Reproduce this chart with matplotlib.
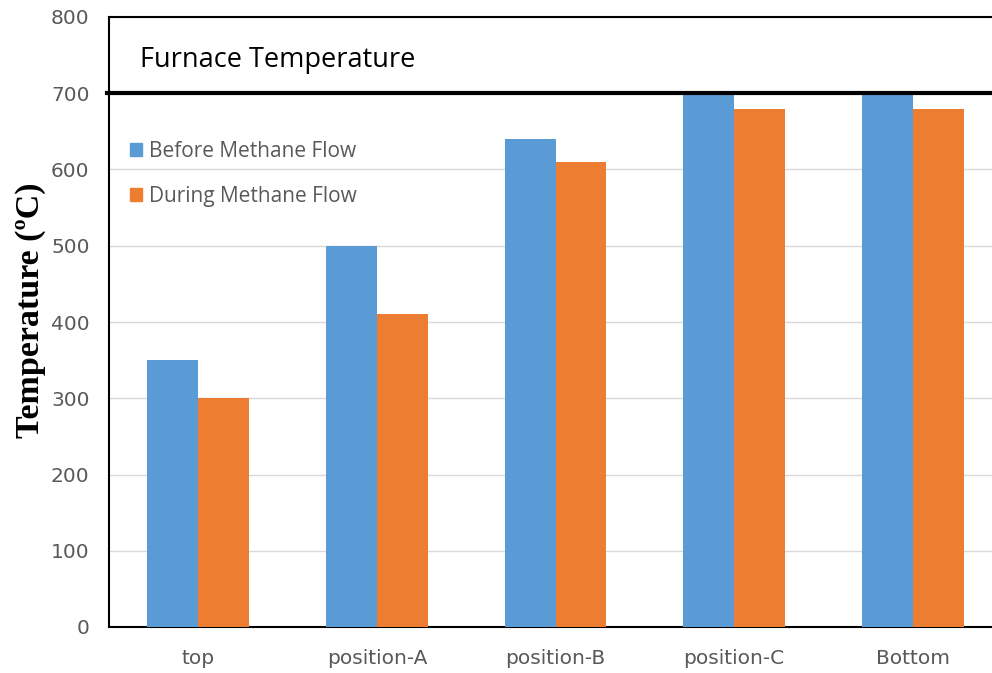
import matplotlib
matplotlib.use("Agg")
import matplotlib.pyplot as plt
import numpy as np
from matplotlib.patches import Patch

categories = ["top", "position-A", "position-B", "position-C", "Bottom"]
before = [350, 500, 640, 700, 700]
during = [300, 410, 610, 680, 680]
series_names = ["Before Methane Flow", "During Methane Flow"]
yticks = [0, 100, 200, 300, 400, 500, 600, 700, 800]
furnace_temp = 700

blue = "#5B9BD5"
orange = "#ED7D31"
gray = "#595959"

fig = plt.figure(figsize=(9.92, 6.73), dpi=100)
ax = fig.add_axes([109/992, 46/673, 893/992, 610/673])

x = np.arange(len(categories))
w = 0.285
ax.bar(x - w/2, before, w, color=blue, zorder=3)
ax.bar(x + w/2, during, w, color=orange, zorder=3)

ax.set_xlim(-0.5, 4.5)
ax.set_ylim(0, 800)
ax.set_yticks(yticks)
ax.set_xticks(x)
ax.set_xticklabels(categories)
ax.tick_params(axis="both", length=0, labelsize=14.5, colors=gray)
ax.tick_params(axis="x", pad=16)
ax.tick_params(axis="y", pad=14)
ax.grid(axis="y", color="#D9D9D9", linewidth=1, zorder=0)
for s in ["left", "bottom", "top"]:
    ax.spines[s].set_color("black")
    ax.spines[s].set_linewidth(1.5)
ax.spines["right"].set_visible(False)

ax.axhline(furnace_temp, color="black", linewidth=3, zorder=4, clip_on=False, xmin=-0.002)
fig.text(140/992, 1 - 60/673, "Furnace Temperature", fontsize=19.5, color="black",
         family="Open Sans", va="center", ha="left")

handles = [Patch(color=blue), Patch(color=orange)]
leg = ax.legend(handles, series_names, loc="upper left", bbox_to_anchor=(0.002, 0.828),
                frameon=False, handlelength=0.6, handleheight=0.6,
                handletextpad=0.35, labelspacing=1.15,
                prop={"family": "Open Sans", "size": 15})
for t in leg.get_texts():
    t.set_color(gray)

ax.set_ylabel("Temperature (ºC)", fontsize=24.5, fontweight="bold", family="Liberation Serif")
ax.yaxis.set_label_coords(-0.07, 0.52)

fig.savefig("out.png", dpi=100)
